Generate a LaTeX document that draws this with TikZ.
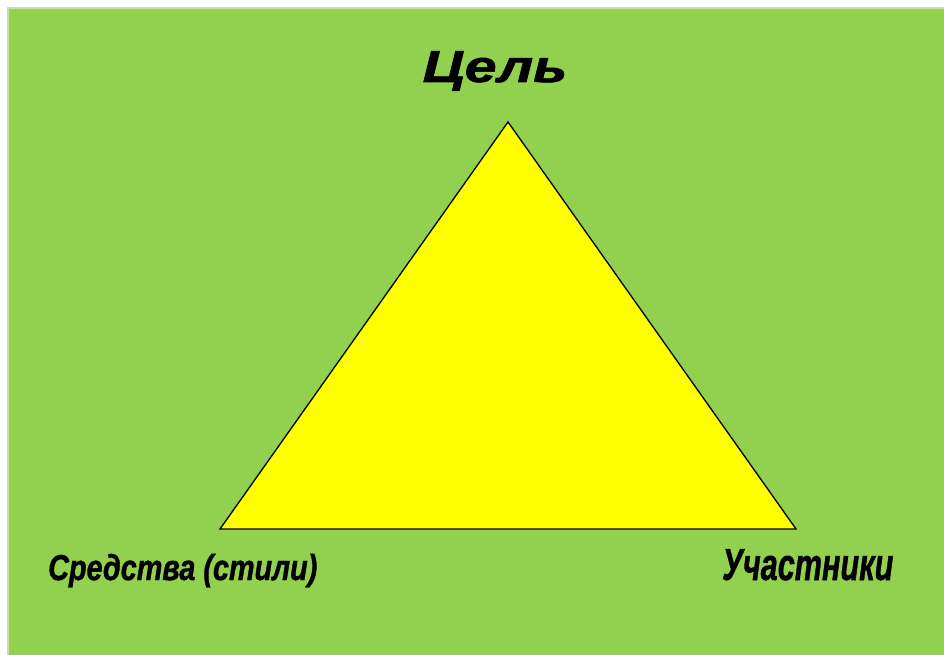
\documentclass[tikz,border=0pt]{standalone}
\usepackage{fontspec}
\setmainfont{Liberation Sans}[BoldItalicFeatures={FakeBold=1.2}]
\usepackage{graphicx}
\definecolor{bggreen}{HTML}{92D050}
\definecolor{edgegreen}{HTML}{C2E3A0}
\definecolor{triyellow}{HTML}{FFFF00}
\begin{document}
\begin{tikzpicture}[x=1pt,y=-1pt,
  lbl/.style={inner sep=0pt, font=\bfseries\itshape, text=black}]
\useasboundingbox (0,0) rectangle (944,655);
\fill[white] (0,0) rectangle (944,655);
\fill[edgegreen] (7,7) rectangle (944,655);
\fill[bggreen] (9,9) rectangle (944,655);
\coordinate (apex) at (508,122);
\coordinate (bl) at (220,529);
\coordinate (br) at (796,529);
\filldraw[fill=triyellow, draw=black, line width=1.3pt, line join=miter] (apex) -- (br) -- (bl) -- cycle;
\node[lbl, anchor=base] (goal) at (495,82) {\fontsize{45}{50}\selectfont\scalebox{1.28}[1]{Цель}};
\node[lbl, anchor=base west] (means) at (48,580) {\fontsize{36}{40}\selectfont\scalebox{0.80}[1]{Средства (стили)}};
\node[lbl, anchor=base west] (part) at (722,580) {\fontsize{45}{50}\selectfont\scalebox{0.68}[1]{Участники}};
\end{tikzpicture}
\end{document}
